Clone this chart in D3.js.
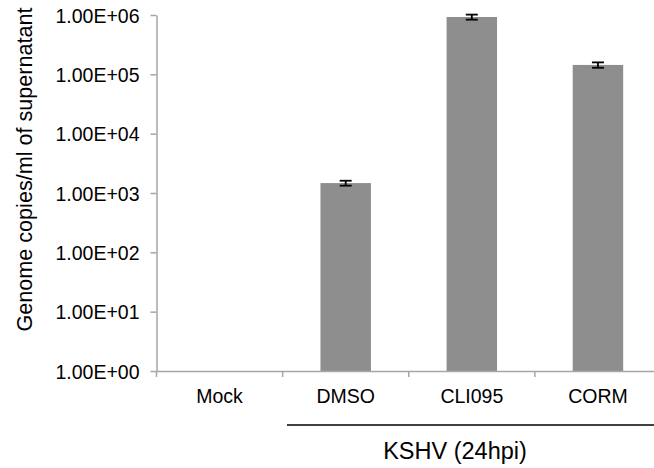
<!DOCTYPE html>
<html><head><meta charset="utf-8">
<script src="https://cdn.jsdelivr.net/npm/d3@7"></script>
<style>html,body{margin:0;padding:0;background:#fff;} svg{display:block;font-family:"Liberation Sans",Arial,sans-serif;}</style>
</head><body>
<svg id="c" width="654" height="468"></svg>
<script>
const categories = ["Mock", "DMSO", "CLI095", "CORM"];
const values = [null, 1470, 925000, 144000];
const errors = [null, 140, 90000, 15000];
const tickValues = [1, 10, 100, 1000, 10000, 100000, 1000000];
const tickLabels = ["1.00E+00","1.00E+01","1.00E+02","1.00E+03","1.00E+04","1.00E+05","1.00E+06"];
const yTitle = "Genome copies/ml of supernatant";
const groupLabel = "KSHV (24hpi)";

(function(){
const svg = d3.select("#c");
const mLeft = 156.5, mRight = 661, mTop = 15, mBottom = 371;
const x = d3.scaleBand().domain(categories).range([mLeft, mRight]).paddingInner(0.6).paddingOuter(0.3);
const y = d3.scaleLog().domain([1, 1e6]).range([mBottom, mTop]);
const axisColor = "#a6a6a6";

// bars
svg.append("g").selectAll("rect").data(categories.map((c,i)=>({c, v: values[i], e: errors[i]})).filter(d=>d.v!=null))
  .join("rect")
  .attr("x", d=>x(d.c)).attr("width", x.bandwidth())
  .attr("y", d=>y(d.v)).attr("height", d=>y(1)-y(d.v))
  .attr("fill", "#8e8e8e");

// error bars
const eg = svg.append("g").attr("stroke", "#000").attr("stroke-width", 1.8);
categories.forEach((c,i)=>{
  if (values[i]==null) return;
  const cx = x(c) + x.bandwidth()/2;
  const y1 = y(values[i]+errors[i]), y2 = y(values[i]-errors[i]);
  eg.append("line").attr("x1",cx).attr("x2",cx).attr("y1",y1).attr("y2",y2);
  eg.append("line").attr("x1",cx-6).attr("x2",cx+6).attr("y1",y1).attr("y2",y1);
  eg.append("line").attr("x1",cx-6).attr("x2",cx+6).attr("y1",y2).attr("y2",y2);
});

// y axis
const yAxis = d3.axisLeft(y).tickValues(tickValues).tickFormat((d,i)=>tickLabels[i]).tickSizeInner(6).tickSizeOuter(0).tickPadding(11);
const ya = svg.append("g").attr("transform", `translate(${mLeft},0)`).call(yAxis);
ya.select(".domain").attr("stroke", axisColor).attr("stroke-width", 1.5);
ya.selectAll(".tick line").attr("stroke", axisColor).attr("stroke-width", 1.5);
ya.selectAll(".tick text").attr("font-size", "19.5px").attr("fill", "#000").attr("font-family", "Liberation Sans, Arial, sans-serif").attr("dy", "0.36em");

// x axis
const xAxis = d3.axisBottom(x).tickSize(0).tickPadding(18);
const xa = svg.append("g").attr("transform", `translate(0,${mBottom})`).call(xAxis);
xa.select(".domain").attr("stroke", axisColor).attr("stroke-width", 1.5);
xa.selectAll(".tick text").attr("font-size", "19.5px").attr("fill", "#000").attr("font-family", "Liberation Sans, Arial, sans-serif");
// boundary ticks
const step = x.step();
const bounds = d3.range(categories.length + 1).map(i => mLeft + i*step);
xa.selectAll("line.bound").data(bounds).join("line").attr("class","bound")
  .attr("x1", d=>d).attr("x2", d=>d).attr("y1", 0).attr("y2", 6)
  .attr("stroke", axisColor).attr("stroke-width", 1.5);

// group line and label
svg.append("line").attr("x1", 287).attr("x2", 670).attr("y1", 425).attr("y2", 425).attr("stroke", "#000").attr("stroke-width", 1.5);
svg.append("text").attr("x", 455).attr("y", 458.5).attr("text-anchor", "middle").attr("font-size", "23.5px").attr("fill", "#000").text(groupLabel);

// y title
svg.append("text").attr("transform", `translate(31.5,${(7+332)/2}) rotate(-90)`).attr("text-anchor", "middle")
  .attr("font-size", "21.6px").attr("fill", "#000").text(yTitle);
})();
</script>
</body></html>
